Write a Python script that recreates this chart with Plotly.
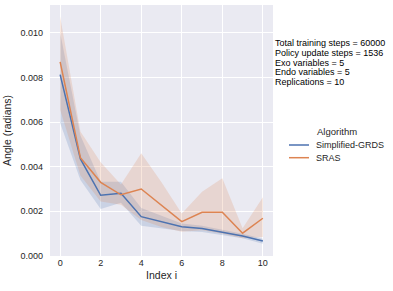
import plotly.graph_objects as go

index_i = [0, 1, 2, 3, 4, 5, 6, 7, 8, 9, 10]

grds_mean = [0.00812, 0.00435, 0.00272, 0.00281, 0.00176, 0.00155, 0.00131, 0.00123, 0.00105, 0.00090, 0.00067]
grds_upper = [0.01000, 0.00540, 0.00333, 0.00333, 0.00215, 0.00180, 0.00145, 0.00135, 0.00118, 0.00100, 0.00077]
grds_lower = [0.00596, 0.00340, 0.00210, 0.00238, 0.00135, 0.00125, 0.00112, 0.00108, 0.00093, 0.00080, 0.00055]

sras_mean = [0.00869, 0.00440, 0.00330, 0.00274, 0.00300, 0.00225, 0.00154, 0.00196, 0.00196, 0.00102, 0.00169]
sras_upper = [0.01073, 0.00557, 0.00420, 0.00320, 0.00460, 0.00330, 0.00190, 0.00288, 0.00348, 0.00124, 0.00263]
sras_lower = [0.00655, 0.00360, 0.00244, 0.00230, 0.00161, 0.00130, 0.00109, 0.00115, 0.00100, 0.00080, 0.00085]

info_lines = [
    "Total training steps = 60000",
    "Policy update steps = 1536",
    "Exo variables = 5",
    "Endo variables = 5",
    "Replications = 10",
]

series = [
    ("Simplified-GRDS", grds_mean, grds_upper, grds_lower, "#4C72B0", "rgba(76,114,176,0.2)"),
    ("SRAS", sras_mean, sras_upper, sras_lower, "#DD8452", "rgba(221,132,82,0.2)"),
]

FONT = "Liberation Sans, Arial, Helvetica, sans-serif"
TXT = "#262626"

W, H = 393, 291
L, R, T, B = 50, 120, 5, 35
PW, PH = W - L - R, H - T - B


def px(x):
    return (x - L) / PW


def py(y):
    return (H - B - y) / PH


fig = go.Figure()
for name, mean, up, lo, col, fill in series:
    fig.add_trace(go.Scatter(x=index_i, y=up, mode="lines", line=dict(width=0),
                             showlegend=False, hoverinfo="skip"))
    fig.add_trace(go.Scatter(x=index_i, y=lo, mode="lines", line=dict(width=0),
                             fill="tonexty", fillcolor=fill, showlegend=False, hoverinfo="skip"))
for name, mean, up, lo, col, fill in series:
    fig.add_trace(go.Scatter(x=index_i, y=mean, mode="lines", name=name,
                             line=dict(color=col, width=1.5), showlegend=False))

# info text block
for k, line in enumerate(info_lines):
    fig.add_annotation(text=line, xref="paper", yref="paper",
                       x=px(273), y=py(43.3 + 9.7 * k),
                       xanchor="left", yanchor="middle", showarrow=False,
                       font=dict(size=9, color="#000000", family=FONT))

# legend (title + entries)
fig.add_annotation(text="Algorithm", xref="paper", yref="paper",
                   x=px(337), y=py(131.7), xanchor="center", yanchor="middle",
                   showarrow=False, font=dict(size=9.5, color=TXT, family=FONT))
for k, (name, mean, up, lo, col, fill) in enumerate(series):
    yy = py(145 + 12.7 * k)
    fig.add_shape(type="line", xref="paper", yref="paper",
                  x0=px(289), x1=px(309), y0=yy, y1=yy,
                  line=dict(color=col, width=1.5))
    fig.add_annotation(text=name, xref="paper", yref="paper",
                       x=px(314), y=yy, xanchor="left", yanchor="middle",
                       showarrow=False, font=dict(size=9, color=TXT, family=FONT))

fig.update_layout(
    width=W, height=H,
    margin=dict(l=L, r=R, t=T, b=B, autoexpand=False),
    paper_bgcolor="white", plot_bgcolor="#EAEAF2",
    font=dict(family=FONT, size=9, color=TXT),
    showlegend=False,
)
fig.update_xaxes(range=[-0.5, 10.5], tickvals=[0, 2, 4, 6, 8, 10], showgrid=True,
                 gridcolor="white", gridwidth=1, zeroline=False, showline=False,
                 ticks="", tickfont=dict(size=9, color=TXT),
                 title=dict(text="Index i", font=dict(size=10.5, color=TXT), standoff=4))
fig.update_yaxes(range=[0, 0.01124], tickvals=[0, 0.002, 0.004, 0.006, 0.008, 0.010],
                 tickformat=".3f", showgrid=True, gridcolor="white", gridwidth=1,
                 zeroline=False, showline=False, ticks="", ticklabelstandoff=6,
                 tickfont=dict(size=9, color=TXT),
                 title=dict(text="Angle (radians)", font=dict(size=10.5, color=TXT), standoff=6))

fig.write_html("out.html", config={"displayModeBar": False},
               post_script="document.body.style.margin='0';")
